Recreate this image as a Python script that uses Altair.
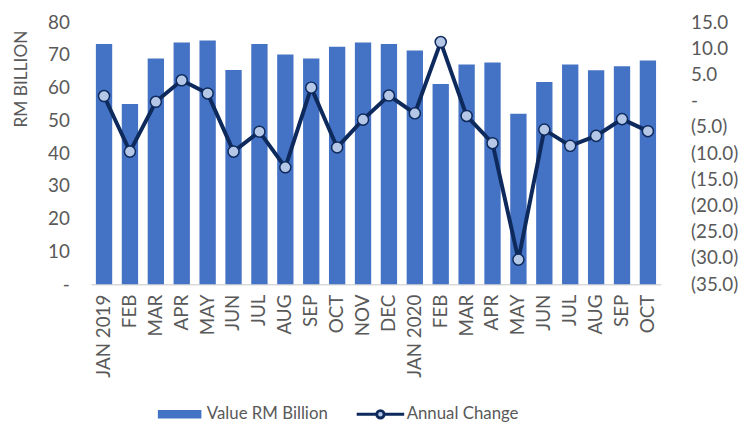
import json
import altair as alt
import pandas as pd

months = ["JAN 2019", "FEB", "MAR", "APR", "MAY", "JUN", "JUL", "AUG", "SEP", "OCT",
          "NOV", "DEC", "JAN 2020", "FEB", "MAR", "APR", "MAY", "JUN", "JUL", "AUG",
          "SEP", "OCT"]
values = [73.3, 55.0, 68.9, 73.8, 74.4, 65.4, 73.3, 70.1, 68.9, 72.5, 73.8,
          73.3, 71.3, 61.1, 67.1, 67.7, 52.0, 61.7, 67.1, 65.3, 66.5, 68.3]
changes = [0.9, -9.7, -0.2, 3.9, 1.4, -9.7, -5.9, -12.7, 2.5, -8.9, -3.6,
           1.0, -2.4, 11.2, -2.9, -8.1, -30.3, -5.5, -8.6, -6.7, -3.5, -5.8]
left_ticks = [0, 10, 20, 30, 40, 50, 60, 70, 80]
right_ticks = [-35, -30, -25, -20, -15, -10, -5, 0, 5, 10, 15]
BAR_SERIES = "Value RM Billion"
LINE_SERIES = "Annual Change"

df = pd.DataFrame({
    "idx": list(range(len(months))),
    "value": values,
    "change": changes,
    "bar_series": BAR_SERIES,
    "line_series": LINE_SERIES,
})

FONT = "Lato"
TEXT = "#595959"
BLUE = "#4472C4"
NAVY = "#0E2A5C"
LIGHT = "#B4C7E7"

label_expr = json.dumps(months) + "[datum.value]"

x = alt.X("idx:O", scale=alt.Scale(paddingInner=0.37, paddingOuter=0.185),
          axis=alt.Axis(title=None, labelExpr=label_expr, labelAngle=270,
                        labelPadding=10, ticks=False, domain=True,
                        domainColor="#D9D9D9", domainWidth=1.5,
                        labelFontSize=19))

bars = alt.Chart(df).mark_bar().encode(
    x=x,
    y=alt.Y("value:Q", scale=alt.Scale(domain=[0, 80], nice=False),
            axis=alt.Axis(title="RM BILLION", values=left_ticks,
                          labelExpr="datum.value == 0 ? '-' : datum.label",
                          grid=False, ticks=False, domain=False,
                          labelPadding=22, titlePadding=17,
                          titleAnchor="end", titleY=8,
                          labelFontSize=19, titleFontSize=17.5)),
    fill=alt.Fill("bar_series:N",
                  scale=alt.Scale(domain=[BAR_SERIES], range=[BLUE]),
                  legend=alt.Legend(orient="none", legendX=81, legendY=388,
                                    title=None,
                                    symbolType="M-4.4,-0.85H4.4V0.85H-4.4Z",
                                    symbolSize=100, labelOffset=19,
                                    symbolStrokeWidth=0)),
)

right_axis = alt.Axis(orient="right", values=right_ticks,
                      labelExpr="datum.value == 0 ? '-' : (datum.value < 0 ? '(' + format(-datum.value, '.1f') + ')' : format(datum.value, '.1f'))",
                      grid=False, ticks=False, domain=False, labelPadding=30,
                      title=None, labelFontSize=19)
yr = alt.Y("change:Q", scale=alt.Scale(domain=[-35, 15], nice=False), axis=right_axis)

line = alt.Chart(df).mark_line(strokeWidth=4).encode(
    x=x,
    y=yr,
    stroke=alt.Stroke("line_series:N",
                      scale=alt.Scale(domain=[LINE_SERIES], range=[NAVY]),
                      legend=alt.Legend(orient="none", legendX=284, legendY=388,
                                        title=None,
                                        symbolType="M-4.8,0H-0.75M0.75,0H4.8M-0.75,0A0.75,0.75,0,1,1,0.75,0A0.75,0.75,0,1,1,-0.75,0Z",
                                        symbolSize=100, labelOffset=18,
                                        symbolFillColor=LIGHT,
                                        symbolStrokeWidth=3)),
)

points = alt.Chart(df).mark_point(filled=True, fill=LIGHT, stroke=NAVY,
                                  strokeWidth=1.5, size=125, opacity=1).encode(
    x=x,
    y=yr,
)

chart = alt.layer(bars, alt.layer(line, points)).resolve_scale(
    y="independent"
).properties(
    width=576, height=265,
    padding={"left": 84, "top": 12, "right": 79, "bottom": 138},
    autosize=alt.AutoSizeParams(type="none"),
).configure_view(stroke=None).configure_axis(
    labelFont=FONT, labelColor=TEXT, titleFont=FONT, titleColor=TEXT,
    titleFontWeight="normal",
).configure_legend(
    labelFont=FONT, labelColor=TEXT, labelFontSize=17,
)

chart.save("out.html", embed_options={"renderer": "svg", "actions": False})
